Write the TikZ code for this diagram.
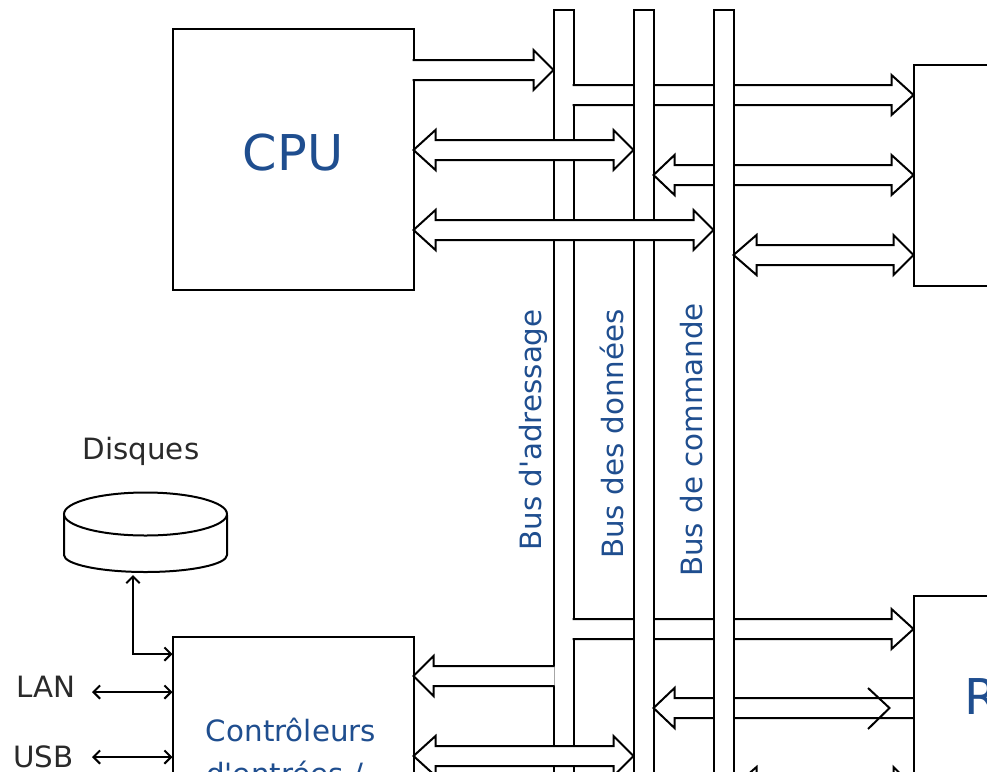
\documentclass[tikz,border=0pt]{standalone}
\usepackage{fontspec}
\newfontfamily\labelfont{DejaVu Sans}
\usetikzlibrary{arrows.meta,calc}
\definecolor{labelblue}{HTML}{1F4E8F}
\definecolor{labeldark}{HTML}{2A2A2A}
\tikzset{
  block/.style={draw=black,fill=white,line width=1.5pt,inner sep=0pt,outer sep=0pt,anchor=north west},
  bus/.style={block,minimum width=15pt,minimum height=586pt},
  pipe/.style={draw=black,fill=white,line width=1.5pt,line join=miter},
  edge line/.style={draw=black,line width=1.5pt},
  wire/.style={edge line,{Straight Barb[length=5pt,width=10pt]}-{Straight Barb[length=5pt,width=10pt]}},
  buslabel/.style={rotate=90,text=labelblue,font=\labelfont\fontsize{22}{26}\selectfont,inner sep=0pt},
  darklabel/.style={text=labeldark,font=\labelfont\fontsize{22}{26}\selectfont,inner sep=0pt},
  bluelabel/.style={text=labelblue,font=\labelfont\fontsize{22}{26}\selectfont,inner sep=0pt}
}
% #1 left anchor, #2 right anchor, #3 centre y (px), #4 left head length (px), #5 right head length (px)
\newcommand{\pipeBoth}[5]{\draw[pipe] let \p1=(#1),\p2=(#2) in
  ({\x1},{-#3*0.75pt}) -- ({\x1+#4*0.75pt},{-(#3-20)*0.75pt}) -- ({\x1+#4*0.75pt},{-(#3-10)*0.75pt})
  -- ({\x2-#5*0.75pt},{-(#3-10)*0.75pt}) -- ({\x2-#5*0.75pt},{-(#3-20)*0.75pt}) -- ({\x2},{-#3*0.75pt})
  -- ({\x2-#5*0.75pt},{-(#3+20)*0.75pt}) -- ({\x2-#5*0.75pt},{-(#3+10)*0.75pt})
  -- ({\x1+#4*0.75pt},{-(#3+10)*0.75pt}) -- ({\x1+#4*0.75pt},{-(#3+20)*0.75pt}) -- cycle;}
% flat on the left, head on the right
\newcommand{\pipeRight}[4]{\draw[pipe] let \p1=(#1),\p2=(#2) in
  ({\x1-0.75pt},{-(#3-10)*0.75pt})
  -- ({\x2-#4*0.75pt},{-(#3-10)*0.75pt}) -- ({\x2-#4*0.75pt},{-(#3-20)*0.75pt}) -- ({\x2},{-#3*0.75pt})
  -- ({\x2-#4*0.75pt},{-(#3+20)*0.75pt}) -- ({\x2-#4*0.75pt},{-(#3+10)*0.75pt})
  -- ({\x1-0.75pt},{-(#3+10)*0.75pt});}
% head on the left, flat on the right
\newcommand{\pipeLeft}[4]{\draw[pipe] let \p1=(#1),\p2=(#2) in
  ({\x2+0.75pt},{-(#3-10)*0.75pt})
  -- ({\x1+#4*0.75pt},{-(#3-10)*0.75pt}) -- ({\x1+#4*0.75pt},{-(#3-20)*0.75pt}) -- ({\x1},{-#3*0.75pt})
  -- ({\x1+#4*0.75pt},{-(#3+20)*0.75pt}) -- ({\x1+#4*0.75pt},{-(#3+10)*0.75pt})
  -- ({\x2+0.75pt},{-(#3+10)*0.75pt});}
\begin{document}
\begin{tikzpicture}[x=0.75pt,y=-0.75pt]
\useasboundingbox (0,0) rectangle (987,771);
\clip (0,0) rectangle (987,771);
\fill[white] (0,0) rectangle (987,771);

% boxes
\node[block,minimum width=180.75pt,minimum height=196pt] (cpu) at (172.5,29) {};
\node[block,minimum width=150pt,minimum height=165.5pt] (mem) at (913.5,65) {};
\node[block,minimum width=150pt,minimum height=200pt] (ram) at (913.5,596) {};
\node[block,minimum width=180.75pt,minimum height=200pt] (io) at (172.5,636.5) {};

% bus 1 and the pipes leaving it towards the right
\node[bus] (bus1) at (553.5,10) {};
\pipeRight{bus1.east}{mem.west}{95}{22}
\pipeRight{bus1.east}{ram.west}{629}{22}
% bus 2 and the pipes leaving it towards the right
\node[bus] (bus2) at (633.5,10) {};
\pipeBoth{bus2.east}{mem.west}{175}{21}{22}
\pipeLeft{bus2.east}{ram.west}{708}{21}
\draw[edge line] (ram.north west) -- (ram.south west);
\coordinate (chevTop) at (868,688);
\coordinate (chevTip) at (889.5,708);
\coordinate (chevBot) at (868,729);
\draw[edge line] (chevTop) -- (chevTip) -- (chevBot);
% bus 3
\node[bus] (bus3) at (713.5,10) {};

% pipes in front of the buses
\pipeRight{cpu.east}{bus1.west}{70}{20}
\pipeBoth{cpu.east}{bus2.west}{150}{22}{20}
\pipeBoth{cpu.east}{bus3.west}{230}{22}{20}
\pipeBoth{bus3.east}{mem.west}{255}{23}{20}
\pipeLeft{io.east}{bus1.west}{676}{20}
\pipeBoth{io.east}{bus2.west}{756}{22}{20}
\pipeBoth{bus3.east}{ram.west}{787}{23}{20}

% disk
\coordinate (disk) at (145.5,514);
\draw[edge line,fill=white] (64,515) -- (64,555) arc[start angle=180,end angle=0,x radius=81.5,y radius=17] -- (227,515);
\draw[edge line,fill=white] (disk) ellipse [x radius=81.5,y radius=21.5];

% labels
\node[text=labelblue,font=\labelfont\fontsize{37}{44}\selectfont,inner sep=0pt] (cpulabel) at (293,153) {CPU};
\node[buslabel] (labA) at (533,430) {Bus d'adressage};
\node[buslabel] (labB) at (612,434) {Bus des données};
\node[buslabel] (labC) at (692,440) {Bus de commande};
\node[darklabel] (disques) at (141,451.5) {Disques};
\node[darklabel,anchor=west] (lan) at (16,687) {LAN};
\node[darklabel,anchor=west] (usb) at (13,757) {USB};
\node[bluelabel] (ctrlA) at (291,730) {Contrôleurs};
\node[bluelabel,anchor=west] (ctrlB) at (206,774) {d'entrées /};
\node[text=labelblue,font=\labelfont\fontsize{37}{44}\selectfont,inner sep=0pt,anchor=west] (ramlabel) at (964,697) {R};

% thin connectors
\coordinate (diskport) at (133,575);
\coordinate (lanport) at (92,692);
\coordinate (usbport) at (92,757);
\draw[wire] (diskport) |- (io.west |- 0,654);
\draw[wire] (lanport) -- (io.west |- lanport);
\draw[wire] (usbport) -- (io.west |- usbport);
\end{tikzpicture}
\end{document}
